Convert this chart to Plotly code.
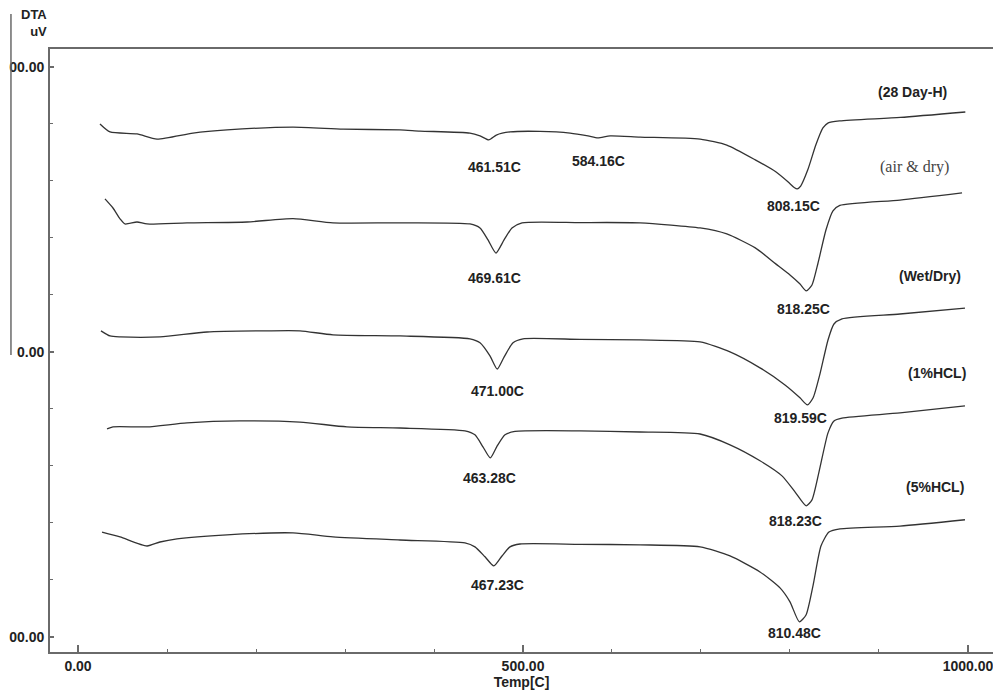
import plotly.graph_objects as go

# ---------------- data (Temp [C], DTA [uV]) ----------------
temp_28day = [24.7, 36.0, 66.3, 88.8, 129.2, 167.4, 241.6, 297.8, 361.8, 384.3, 440.4, 451.7,
              461.51, 470.0, 485.4, 519.1, 553.0, 573.0, 584.16, 598.0, 631.5, 699.0, 729.0,
              761.0, 784.0, 798.0, 804.7, 808.15, 812.0, 820.0, 829.0, 837.0, 843.0, 856.0,
              924.0, 997.0]
dta_28day = [80.0, 77.2, 76.5, 74.7, 76.8, 77.9, 78.9, 78.2, 77.9, 77.5, 76.8, 75.8,
             74.4, 76.1, 77.2, 77.4, 76.8, 75.8, 75.1, 75.8, 75.4, 74.7, 72.6,
             67.4, 63.2, 59.6, 57.7, 57.2, 58.2, 63.9, 72.6, 78.6, 80.4, 81.1,
             82.3, 84.2]

temp_air = [30.3, 39.3, 47.2, 52.8, 66.3, 77.5, 122.5, 190.0, 241.6, 286.5, 361.8, 440.4,
            451.7, 460.7, 469.61, 478.7, 487.6, 498.9, 564.0, 631.5, 699.0, 729.0, 761.0,
            784.0, 800.0, 811.0, 818.25, 824.7, 831.5, 840.4, 848.3, 856.0, 923.6, 993.3]
dta_air = [53.7, 50.5, 46.7, 44.9, 45.6, 44.9, 45.3, 45.6, 46.8, 45.3, 45.3, 44.9,
           43.5, 39.3, 34.7, 39.3, 43.5, 45.3, 45.4, 45.3, 43.5, 41.4, 36.5,
           30.9, 27.0, 23.9, 21.4, 23.5, 31.2, 42.8, 49.5, 51.4, 53.3, 55.8]

temp_wet = [25.8, 36.0, 47.2, 92.1, 145.0, 212.0, 249.4, 286.5, 361.8, 440.4, 451.7, 462.9,
            471.00, 478.7, 488.8, 500.0, 564.0, 631.5, 699.0, 732.6, 766.3, 794.4, 811.2,
            819.59, 826.0, 833.7, 842.7, 849.4, 858.4, 923.6, 996.6]
dta_wet = [7.4, 5.6, 5.3, 5.3, 7.0, 7.4, 7.4, 6.0, 5.6, 4.6, 3.2, -1.4,
           -6.0, -1.8, 3.2, 4.6, 4.4, 4.2, 3.5, 0.0, -5.6, -11.6, -16.1,
           -18.6, -16.1, -7.7, 4.2, 9.8, 11.6, 13.3, 15.4]

temp_1hcl = [32.6, 39.3, 77.5, 122.5, 182.0, 249.4, 302.2, 361.8, 434.8, 446.0, 455.0,
             463.28, 471.0, 479.8, 491.0, 564.0, 631.5, 699.0, 732.6, 766.3, 791.0, 805.6,
             818.23, 824.7, 832.6, 842.7, 849.4, 858.4, 923.6, 996.6]
dta_1hcl = [-27.0, -26.3, -26.3, -24.9, -24.2, -24.6, -26.3, -26.7, -27.7, -29.1, -33.3,
            -37.2, -33.0, -29.1, -27.9, -27.7, -28.1, -28.8, -32.6, -38.2, -43.5, -49.1,
            -54.0, -51.9, -42.1, -28.4, -24.2, -23.2, -21.4, -18.9]

temp_5hcl = [27.0, 47.2, 77.5, 92.1, 111.2, 167.4, 241.6, 286.5, 361.8, 434.8, 446.0, 457.3,
             467.23, 476.4, 485.4, 496.6, 564.0, 631.5, 699.0, 732.6, 766.3, 788.8, 800.0,
             810.48, 818.0, 826.0, 834.8, 843.8, 856.2, 923.6, 996.6]
dta_5hcl = [-63.2, -64.9, -68.1, -66.7, -65.6, -64.2, -63.5, -64.9, -66.0, -67.0, -68.4, -71.9,
            -75.1, -71.6, -68.4, -67.4, -67.5, -67.7, -68.4, -71.6, -77.2, -82.8, -87.7,
            -94.7, -92.3, -81.8, -68.1, -63.2, -62.1, -61.1, -58.9]

series_names = ["(28 Day-H)", "(air & dry)", "(Wet/Dry)", "(1%HCL)", "(5%HCL)"]
series_temps = [temp_28day, temp_air, temp_wet, temp_1hcl, temp_5hcl]
series_dta = [dta_28day, dta_air, dta_wet, dta_1hcl, dta_5hcl]

# labelled peak temperatures (per series)
peak_labels = [[461.51, 584.16, 808.15], [469.61, 818.25], [471.00, 819.59],
               [463.28, 818.23], [467.23, 810.48]]

x_tick_vals = [0, 500, 1000]
x_tick_text = ["0.00", "500.00", "1000.00"]
y_tick_vals = [-100, 0, 100]
y_tick_text = ["00.00", "0.00", "00.00"]

# ---------------- styling / positions ----------------
# pixel offsets of each peak label relative to the peak point
peak_label_shift = [[(6, -27), (1, -23), (-4, -17)], [(-1, -25), (-3, -18)], [(0, -22), (-7, -13)],
                    [(-1, -20), (-11, -15)], [(4, -19), (-5, -11)]]
# positions of series name labels (data coords)
name_pos = [(938.2, 91.2), (940.4, 64.9), (957.3, 26.7), (965.2, -7.4), (962.9, -47.4)]

BOLD = dict(family="Liberation Sans, Arial, sans-serif", size=14, color="#222", weight="bold")
LINE_COLOR = "#333333"
AXIS_COLOR = "#6a6a6a"

fig = go.Figure()
for name, tx, vy in zip(series_names, series_temps, series_dta):
    fig.add_trace(go.Scatter(x=tx, y=vy, mode="lines", name=name,
                             line=dict(color=LINE_COLOR, width=1.3, shape="spline", smoothing=0.6),
                             showlegend=False, hoverinfo="x+y"))

annotations = []
for tx, vy, peaks, shifts in zip(series_temps, series_dta, peak_labels, peak_label_shift):
    for p, (dx, dy) in zip(peaks, shifts):
        v = vy[tx.index(p)]
        annotations.append(dict(x=p, y=v, xref="x", yref="y", text=f"{p:.2f}C",
                                showarrow=False, xshift=dx, yshift=dy, font=BOLD))

for i, (name, (nx, ny)) in enumerate(zip(series_names, name_pos)):
    if i == 1:
        f = dict(family="Liberation Serif, Times New Roman, serif", size=16, color="#444")
    else:
        f = BOLD
    annotations.append(dict(x=nx, y=ny, xref="x", yref="y", text=name, showarrow=False, font=f))

annotations.append(dict(x=-0.001, y=1.0, xref="paper", yref="paper", xanchor="right", yanchor="bottom",
                        yshift=8, text="DTA<br>uV", align="right", showarrow=False,
                        font=dict(family="Liberation Sans, Arial, sans-serif", size=13,
                                  color="#222", weight="bold")))

fig.update_layout(
    width=993, height=697,
    margin=dict(l=50, r=0, t=49, b=45, autoexpand=False),
    paper_bgcolor="white", plot_bgcolor="white",
    annotations=annotations,
    shapes=[dict(type="line", xref="paper", yref="paper", x0=-0.0414, x1=-0.0414, y0=0.4925, y1=1.058,
                 line=dict(color=AXIS_COLOR, width=1.5))],
    xaxis=dict(range=[-31.46, 1028.1], tickmode="array", tickvals=x_tick_vals, ticktext=x_tick_text,
               ticks="inside", ticklen=7, tickwidth=1.5, tickcolor=AXIS_COLOR,
               minor=dict(tickmode="linear", tick0=0, dtick=100, ticks="inside", ticklen=3,
                          tickwidth=1.3, tickcolor=AXIS_COLOR, showgrid=False),
               showline=True, linecolor=AXIS_COLOR, linewidth=1.8, mirror=True,
               showgrid=False, zeroline=False, tickfont=BOLD, automargin=False,
               ticklabeloverflow="allow",
               title=dict(text="Temp[C]", font=BOLD, standoff=4)),
    yaxis=dict(range=[-105.3, 106.3], tickmode="array", tickvals=y_tick_vals, ticktext=y_tick_text,
               ticks="inside", ticklen=4, tickwidth=1.5, tickcolor=AXIS_COLOR,
               minor=dict(tickmode="linear", tick0=0, dtick=20, ticks="inside", ticklen=3,
                          tickwidth=1.3, tickcolor=AXIS_COLOR, showgrid=False),
               showline=True, linecolor=AXIS_COLOR, linewidth=1.8, automargin=False,
               ticklabeloverflow="allow",
               showgrid=False, zeroline=False, tickfont=BOLD, ticklabelstandoff=1),
)

fig.write_html("out.html", config={"displayModeBar": False},
               post_script="document.body.style.margin='0';document.body.style.overflow='hidden';")
